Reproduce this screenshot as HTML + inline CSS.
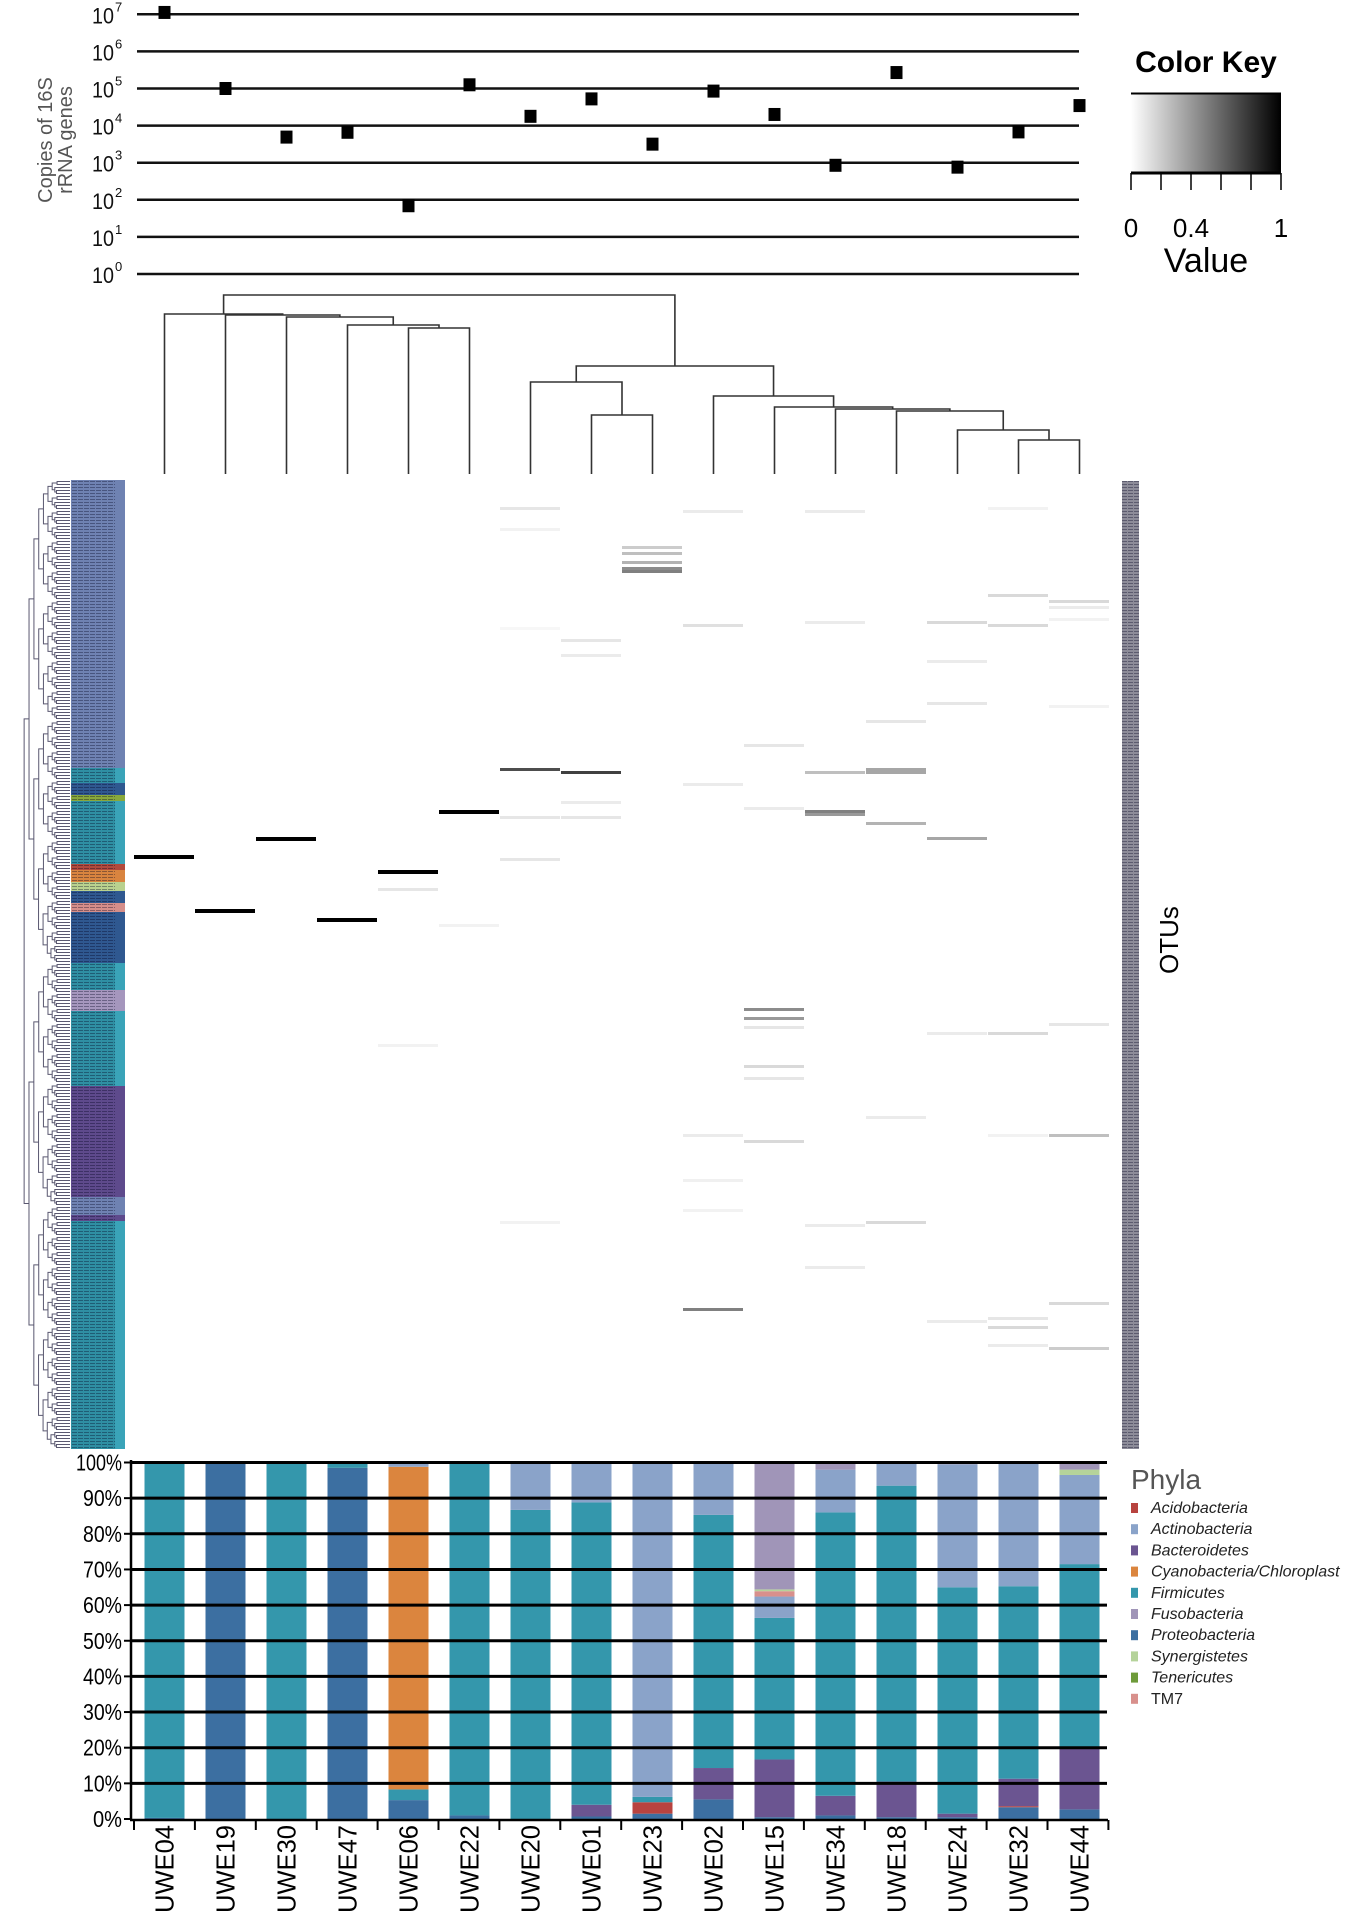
<!DOCTYPE html>
<html><head><meta charset="utf-8"><style>
html,body{margin:0;padding:0;background:#fff}
svg{display:block}
text{font-family:"Liberation Sans",sans-serif}
</style></head><body>
<svg id="chart" width="1358" height="1916" viewBox="0 0 1358 1916" xmlns="http://www.w3.org/2000/svg">
<g id="top"></g>
<g id="key"></g>
<g id="dendro"></g>
<g id="heat"></g>
<g id="bars"></g>
</svg>
<script>
const samples=["UWE04","UWE19","UWE30","UWE47","UWE06","UWE22","UWE20","UWE01","UWE23","UWE02","UWE15","UWE34","UWE18","UWE24","UWE32","UWE44"];
const logCopies=[7.05,5.0,3.69,3.82,1.84,5.1,4.25,4.72,3.5,4.93,4.3,2.93,5.43,2.88,3.83,4.54];
const logTicks=[0,1,2,3,4,5,6,7];
const phyla=["Acidobacteria","Actinobacteria","Bacteroidetes","Cyanobacteria/Chloroplast","Firmicutes","Fusobacteria","Proteobacteria","Synergistetes","Tenericutes","TM7"];
const phylaColors=["#b8433f","#8aa3c9","#6b5591","#db853e","#3497ac","#a095b8","#3c6fa1","#b5d39a","#6e9b3a","#d8908c"];
const stackOrder=[6,0,2,4,3,1,9,7,8,5];
const proteo=[0.3,100,0,98.5,5.3,1,0,0.7,1.5,5.5,0.5,1,0.5,0.5,3.3,2.7];
const acido=[0,0,0,0,0,0,0,0,3.2,0,0,0,0,0,0.3,0];
const bacter=[0,0,0,0,0,0,0,3.3,0,8.8,16.2,5.5,10,1,7.7,17.3];
const firmic=[99.7,0,100,1.5,3,99,86.7,84.8,1.5,71,39.7,79.5,83,63.5,54,51.5];
const cyano=[0,0,0,0,90.5,0,0,0,0,0,0,0,0,0,0,0];
const actino=[0,0,0,0,1.2,0,13.3,11.2,93.8,14.7,6,12,6.5,34.5,34.7,25];
const tm7=[0,0,0,0,0,0,0,0,0,0,1.5,0,0,0,0,0];
const synerg=[0,0,0,0,0,0,0,0,0,0,0.5,0,0,0,0,1.5];
const teneric=[0,0,0,0,0,0,0,0,0,0,0,0,0,0,0,0];
const fuso=[0,0,0,0,0,0,0,0,0,0,35.6,2,0,0.5,0,2];
const pctTicks=[0,10,20,30,40,50,60,70,80,90,100];
const heatCols=[0,1,2,3,4,4,4,5,5,6,6,6,6,6,6,6,7,7,7,7,7,8,8,8,8,8,9,9,9,9,9,9,9,10,10,10,10,10,10,10,10,11,11,11,11,11,11,11,12,12,12,12,12,12,13,13,13,13,13,13,14,14,14,14,14,14,14,14,15,15,15,15,15,15,15,15];
const heatRows=[125,143,119,146,130,136,188,110,148,96,9,16,112,126,49,247,97,53,58,107,112,22,24,27,29,30,10,48,101,276,218,233,243,176,179,195,199,88,109,220,182,110,111,97,10,47,262,248,96,97,114,80,247,212,119,47,60,74,184,280,38,48,9,184,218,282,279,288,40,42,46,181,218,274,289,75];
const heatVals=[1,1,1,1,1,0.1,0.05,1,0.05,0.7,0.1,0.05,0.1,0.1,0.03,0.05,0.75,0.1,0.08,0.08,0.1,0.2,0.25,0.3,0.45,0.5,0.08,0.12,0.08,0.5,0.08,0.06,0.05,0.45,0.4,0.15,0.1,0.1,0.08,0.15,0.1,0.5,0.4,0.25,0.08,0.08,0.08,0.08,0.35,0.35,0.3,0.1,0.15,0.08,0.35,0.15,0.08,0.1,0.08,0.08,0.15,0.15,0.05,0.15,0.05,0.15,0.1,0.08,0.15,0.08,0.05,0.1,0.25,0.15,0.2,0.05];
const segStart=[0,96,101,105,107,128,130,134,137,141,144,161,170,177,202,239,245,247];
const segEnd=[96,101,105,107,128,130,134,137,141,144,161,170,177,202,239,245,247,323];
const segPhy=[1,4,6,8,4,0,3,7,6,9,6,4,5,4,2,1,2,4];
const merges=[[4,5,328],[3,-1,325],[2,-2,317],[1,-3,315],[0,-4,314],[7,8,415],[6,-6,382],[14,15,440],[13,-8,430],[12,-9,411],[11,-10,409],[10,-11,407],[9,-12,396],[-7,-13,366],[-5,-14,295]];

const NS="http://www.w3.org/2000/svg";
function mk(tag,attrs,parent){const e=document.createElementNS(NS,tag);for(const k in attrs)e.setAttribute(k,attrs[k]);parent.appendChild(e);return e;}
const colX=i=>164.5+i*61;

const topG=document.getElementById('top');
const yLog=v=>274-v*37.1;
logTicks.forEach(t=>{
  const l=mk('line',{x1:137,x2:1079,y1:yLog(t),y2:yLog(t),stroke:'#111','stroke-width':2.5},topG);
  
  
  const tx=mk('text',{x:92,y:yLog(t)+9,'font-size':22,fill:'#111',textLength:22,lengthAdjust:'spacingAndGlyphs'},topG);
  tx.textContent='10';
  
  
  const sp=mk('text',{x:115,y:yLog(t)-3,'font-size':13,fill:'#111'},topG);
  sp.textContent=String(t);
  
  
});
logCopies.forEach((v,i)=>{
  const r=mk('rect',{x:colX(i)-6,y:yLog(v)-6.5,width:12,height:13,fill:'#000'},topG);
  
  
});
[['Copies of 16S',52],['rRNA genes',72]].forEach(([s,x])=>{
  const t=mk('text',{x:x,y:140,'font-size':20,fill:'#555','text-anchor':'middle',transform:`rotate(-90 ${x} 140)`},topG);
  t.textContent=s;
  
  
});

const keyG=document.getElementById('key');
const defs=mk('defs',{},keyG);
const lg=mk('linearGradient',{id:'gk',x1:0,x2:1,y1:0,y2:0},defs);
mk('stop',{offset:0,'stop-color':'#fff'},lg);mk('stop',{offset:1,'stop-color':'#000'},lg);
const kr=mk('rect',{x:1131,y:93,width:150,height:80,fill:'url(#gk)'},keyG);


mk('line',{x1:1131,x2:1281,y1:93.5,y2:93.5,stroke:'#000','stroke-width':2},keyG);
mk('line',{x1:1131,x2:1281,y1:173,y2:173,stroke:'#000','stroke-width':3},keyG);
for(let i=0;i<6;i++)mk('line',{x1:1131+i*30,x2:1131+i*30,y1:173,y2:190,stroke:'#000','stroke-width':1.5},keyG);
[['0',1131],['0.4',1191],['1',1281]].forEach(([s,x])=>{
  const t=mk('text',{x:x,y:237,'font-size':26,'text-anchor':'middle'},keyG);
  t.textContent=s;
  
  
});
const t1=mk('text',{x:1206,y:272,'font-size':34,'text-anchor':'middle'},keyG);t1.textContent='Value';


const t2=mk('text',{x:1206,y:72,'font-size':30,'font-weight':'bold','text-anchor':'middle'},keyG);t2.textContent='Color Key';



const dg=document.getElementById('dendro');
const nodes=[];
function nodeInfo(c){return c>=0?{x:colX(c),y:474}:nodes[-c-1];}
merges.forEach(([a,b,h])=>{
  const A=nodeInfo(a),B=nodeInfo(b);
  const p=mk('path',{d:`M${A.x},${A.y}V${h}H${B.x}V${B.y}`,fill:'none',stroke:'#333','stroke-width':1.6},dg);
  
  
  nodes.push({x:(A.x+B.x)/2,y:h});
});

const heat=document.getElementById('heat');
const rowY=r=>480+r*3;
const hx0=134,cw=61;
heatCols.forEach((c,i)=>{
  const g=Math.round(255*(1-heatVals[i]));
  const r=mk('rect',{x:hx0+c*cw,y:rowY(heatRows[i]),width:cw-1,height:heatVals[i]>0.9?4:3,fill:`rgb(${g},${g},${g})`},heat);
  
  
});
const dark={1:'#6f82b2',4:'#2f8fa3',6:'#2f5890',8:'#88a83c',0:'#b24a3c',3:'#d9843f',7:'#b9d18e',9:'#d58e8a',5:'#a596bd',2:'#5e4a8c'};
segStart.forEach((s,i)=>{
  const p=segPhy[i];
  const r=mk('rect',{x:71,y:rowY(s),width:54,height:(segEnd[i]-s)*3,fill:dark[p]},heat);
  
  
  if(p===4){mk('rect',{x:115,y:rowY(s),width:10,height:(segEnd[i]-s)*3,fill:'#3aa3b8'},heat);}
});
const pat=mk('pattern',{id:'tx',width:6,height:3,patternUnits:'userSpaceOnUse'},defs);
mk('rect',{x:0,y:1,width:5,height:1,fill:'rgba(0,0,30,0.35)'},pat);
mk('rect',{x:71,y:480,width:44,height:969,fill:'url(#tx)'},heat);
const rs=mk('rect',{x:1122,y:481,width:17,height:968,fill:'#8d8c99'},heat);


mk('rect',{x:1122,y:481,width:17,height:968,fill:'url(#tx)'},heat);
const ot=mk('text',{x:1178,y:940,'font-size':26,'text-anchor':'middle',transform:'rotate(-90 1178 940)'},heat);
ot.textContent='OTUs';


function tree(a,b,depth){
  if(b-a<=1)return {y:rowY(a)+1.5,x:70};
  const m=Math.floor((a+b)/2);
  const L=tree(a,m,depth+1),R=tree(m,b,depth+1);
  const x=Math.max(8,70-Math.log2(b-a+1)*5.5-depth*0.6);
  mk('path',{d:`M${L.x},${L.y}H${x}V${R.y}H${R.x}`,fill:'none',stroke:'#5a5870','stroke-width':1},heat);
  return {x:x,y:(L.y+R.y)/2};
}
tree(0,323,0);

const bars=document.getElementById('bars');
const series=[acido,actino,bacter,cyano,firmic,fuso,proteo,synerg,teneric,tm7];
const yP=v=>1819-v*3.565;
samples.forEach((s,i)=>{
  let acc=0;
  stackOrder.forEach(p=>{
    const v=series[p][i];if(v<=0)return;
    const r=mk('rect',{x:colX(i)-20,y:yP(acc+v),width:40,height:v*3.565,fill:phylaColors[p]},bars);
    
    
    acc+=v;
  });
});
pctTicks.forEach(t=>{
  if(t>0){
    const l=mk('line',{x1:130,x2:1107,y1:yP(t),y2:yP(t),stroke:'#000','stroke-width':3},bars);
    
    
  }
  mk('line',{x1:124,x2:131,y1:yP(t),y2:yP(t),stroke:'#000','stroke-width':2},bars);
  const tx=mk('text',{x:122,y:yP(t)+8,'font-size':23,'text-anchor':'end',textLength:t===100?46:(t===0?29:39),lengthAdjust:'spacingAndGlyphs'},bars);
  tx.textContent=t+'%';
  
  
});
mk('line',{x1:131,x2:131,y1:1460,y2:1820,stroke:'#000','stroke-width':2.5},bars);
mk('line',{x1:130,x2:1108,y1:1820,y2:1820,stroke:'#000','stroke-width':2.5},bars);
for(let i=0;i<=16;i++)mk('line',{x1:134+i*60.9,x2:134+i*60.9,y1:1820,y2:1830,stroke:'#000','stroke-width':2},bars);
samples.forEach((s,i)=>{
  const x=colX(i)+9;
  const t=mk('text',{x:x,y:1825,'font-size':26,'text-anchor':'end',textLength:88,lengthAdjust:'spacingAndGlyphs',transform:`rotate(-90 ${x} 1825)`},bars);
  t.textContent=s;
  
  
});
const ph=mk('text',{x:1131,y:1489,'font-size':28,fill:'#555'},bars);ph.textContent='Phyla';


phyla.forEach((p,i)=>{
  const y=1512+i*21.2;
  const r=mk('rect',{x:1131,y:y-9,width:7,height:10,fill:phylaColors[i]},bars);
  
  
  const t=mk('text',{x:1151,y:y+1,'font-size':16,'font-style':p==='TM7'?'normal':'italic',fill:'#222'},bars);
  t.textContent=p;
  
  
});
</script>
</body></html>
